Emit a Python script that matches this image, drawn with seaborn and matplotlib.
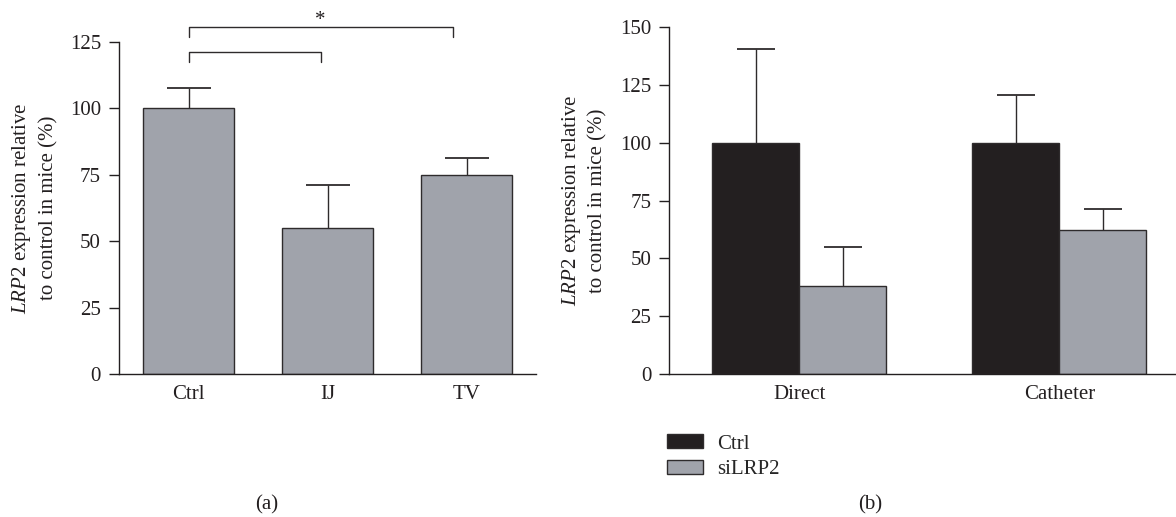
import seaborn as sns
import matplotlib.pyplot as plt
import pandas as pd

# Panel (a): injection route
routes_a = ['Ctrl', 'IJ', 'TV']
means_a = [100, 55, 75]
err_a = [7.5, 16.2, 6.1]

# Panel (b): delivery method, Ctrl vs siLRP2
methods_b = ['Direct', 'Catheter']
groups_b = ['Ctrl', 'siLRP2']
ctrl_b = [100, 100]
ctrl_err_b = [40.7, 20.5]
si_b = [38, 62.2]
si_err_b = [17.0, 9.2]

# significance brackets on panel (a): (x0, x1, bar height, leg bottom, label)
brackets_a = [(0, 0.95, 121.1, 117.3, ''), (0, 1.90, 130.4, 126.8, '*')]

BLACK = '#231F20'
GRAY = '#A0A3AB'
EDGE = '#2E2B2C'

sns.set_style('ticks')
plt.rcParams['font.family'] = ['Liberation Serif', 'DejaVu Serif']
plt.rcParams['mathtext.fontset'] = 'custom'
plt.rcParams['mathtext.it'] = 'Liberation Serif:italic'
plt.rcParams['mathtext.rm'] = 'Liberation Serif'
plt.rcParams['font.size'] = 15

fig = plt.figure(figsize=(11.76, 5.17), dpi=100)
ax_a = fig.add_axes([0.1012, 0.2766, 0.3546, 0.6427])
ax_b = fig.add_axes([0.5691, 0.2766, 0.4422, 0.6706])

ylabel = '$\\it{LRP2}$ expression relative\nto control in mice (%)'


def style_axis(ax, ymax, step):
    ax.set_ylim(0, ymax)
    ax.set_yticks(range(0, ymax + 1, step))
    ax.set_xlabel('')
    for side in ['top', 'right']:
        ax.spines[side].set_visible(False)
    for side in ['left', 'bottom']:
        ax.spines[side].set_color(BLACK)
        ax.spines[side].set_linewidth(1.0)
    ax.tick_params(axis='y', length=7, width=1.0, color=BLACK, pad=6, labelsize=15, labelcolor=BLACK)
    ax.tick_params(axis='x', length=0, pad=8, labelsize=15, labelcolor=BLACK)
    ax.set_ylabel(ylabel, fontsize=15, color=BLACK, linespacing=1.4)


def up_error(ax, x, top, err, cap):
    # one-sided (upper) error bar, lower cap hidden
    _, caps, _ = ax.errorbar(x, top, yerr=[[0], [err]], color=EDGE, elinewidth=1.0,
                             capsize=cap, capthick=1.3, zorder=1)
    caps[0].set_visible(False)


# ---- panel (a)
df_a = pd.DataFrame({'route': routes_a, 'value': means_a})
sns.barplot(data=df_a, x='route', y='value', color=GRAY, width=0.66,
            edgecolor=EDGE, linewidth=1.0, errorbar=None, ax=ax_a, saturation=1)
for bar, err in zip(ax_a.containers[0], err_a):
    up_error(ax_a, bar.get_x() + bar.get_width() / 2, bar.get_height(), err, 16)
ax_a.set_xlim(-0.5, 2.5)
style_axis(ax_a, 125, 25)
ax_a.yaxis.set_label_coords(-0.146, 0.5)

for x0, x1, yh, yl, lab in brackets_a:
    ax_a.plot([x0, x0, x1, x1], [yl, yh, yh, yl], color=EDGE, lw=1.0, clip_on=False)
    if lab:
        ax_a.text((x0 + x1) / 2, yh + 2.5, lab, ha='center', va='center',
                  fontsize=15, color=BLACK, clip_on=False)

# ---- panel (b)
df_b = pd.DataFrame({
    'method': methods_b * 2,
    'group': [groups_b[0]] * 2 + [groups_b[1]] * 2,
    'value': ctrl_b + si_b,
})
sns.barplot(data=df_b, x='method', y='value', hue='group', hue_order=groups_b,
            palette={'Ctrl': BLACK, 'siLRP2': GRAY}, width=0.67, gap=0,
            edgecolor=EDGE, linewidth=1.0, errorbar=None, ax=ax_b, saturation=1)
for cont, errs in zip(ax_b.containers, [ctrl_err_b, si_err_b]):
    for bar, err in zip(cont, errs):
        up_error(ax_b, bar.get_x() + bar.get_width() / 2, bar.get_height(), err, 14)
ax_b.set_xlim(-0.5, 1.5)
style_axis(ax_b, 150, 25)
ax_b.yaxis.set_label_coords(-0.118, 0.5)

handles, labels = ax_b.get_legend_handles_labels()
ax_b.legend(handles, labels, loc='upper left', bbox_to_anchor=(0.567, 0.16),
            bbox_transform=fig.transFigure, frameon=False, borderpad=0,
            borderaxespad=0, handlelength=1.75, handleheight=0.65,
            handletextpad=0.65, labelspacing=0.3, fontsize=15)

fig.text(267 / 1176, 1 - 505 / 517, '(a)', ha='center', va='center', fontsize=15, color=BLACK)
fig.text(870 / 1176, 1 - 505 / 517, '(b)', ha='center', va='center', fontsize=15, color=BLACK)

fig.savefig('out.png', dpi=100)
